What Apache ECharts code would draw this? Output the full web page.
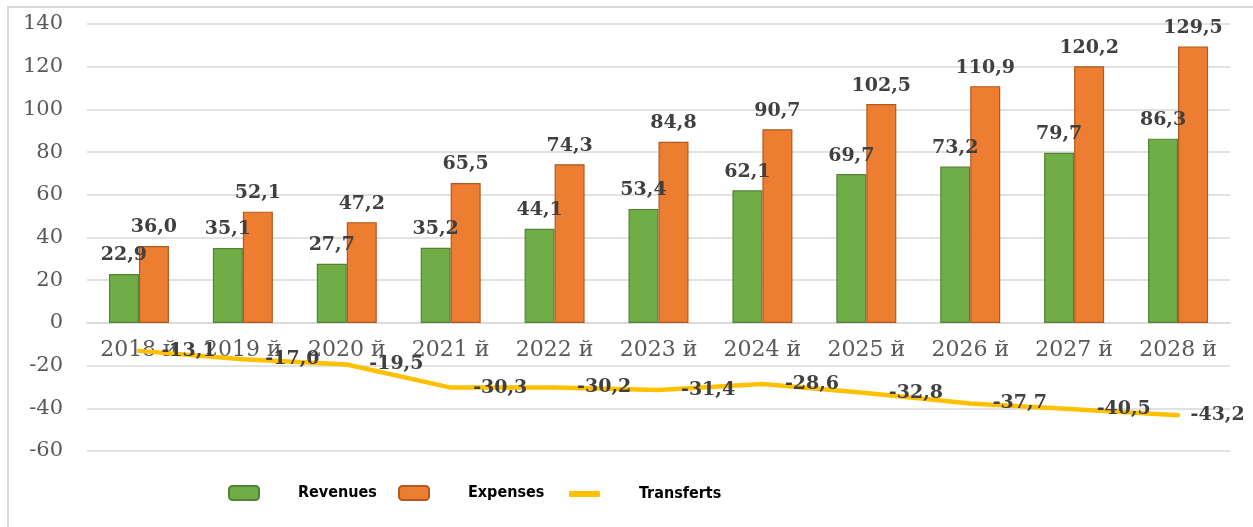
<!DOCTYPE html>
<html>
<head>
<meta charset="utf-8">
<script src="https://cdn.jsdelivr.net/npm/echarts@6/dist/echarts.min.js"></script>
<style>
  html, body { margin: 0; padding: 0; background: #fff; }
  #chart { width: 1253px; height: 527px; }
</style>
</head>
<body>
<div id="chart"></div>
<script>
const years = ['2018 й', '2019 й', '2020 й', '2021 й', '2022 й', '2023 й', '2024 й', '2025 й', '2026 й', '2027 й', '2028 й']
const revenues = [22.9, 35.1, 27.7, 35.2, 44.1, 53.4, 62.1, 69.7, 73.2, 79.7, 86.3]
const expenses = [36.0, 52.1, 47.2, 65.5, 74.3, 84.8, 90.7, 102.5, 110.9, 120.2, 129.5]
const transferts = [-13.1, -17.0, -19.5, -30.3, -30.2, -31.4, -28.6, -32.8, -37.7, -40.5, -43.2]

const serif = '"DejaVu Serif", "Liberation Serif", serif'
const legendFont = '"Liberation Sans Narrow", "DejaVu Sans Condensed", "Liberation Sans", sans-serif'
const fmt = v => v.toFixed(1).replace('.', ',')

const barLabel = {
  show: true,
  position: 'top',
  distance: 9,
  fontFamily: serif,
  fontWeight: 'bold',
  fontSize: 19,
  color: '#404040',
  formatter: p => fmt(p.value)
}

const legendText = {
  fontFamily: legendFont,
  fontWeight: 'bold',
  fontSize: 16,
  color: '#000',
  padding: [0, 0, 0, 34]
}

const chart = echarts.init(document.getElementById('chart'))

chart.setOption({
  animation: false,
  backgroundColor: '#fff',
  graphic: [{
    type: 'rect',
    shape: { x: 8, y: 7, width: 1400, height: 700 },
    style: { fill: 'none', stroke: '#d9d9d9', lineWidth: 2 },
    silent: true,
    z: -1
  }],
  grid: { left: 87, right: 23, top: 24, bottom: 76 },
  legend: [
    { left: 228, top: 485, padding: 0, itemWidth: 30, itemHeight: 14, data: ['Revenues'], textStyle: legendText },
    { left: 398, top: 485, padding: 0, itemWidth: 30, itemHeight: 14, data: ['Expenses'], textStyle: legendText },
    { left: 569, top: 486, padding: 0, itemWidth: 31, itemHeight: 6, data: [{ name: 'Transferts', icon: 'roundRect' }], textStyle: legendText }
  ],
  xAxis: {
    type: 'category',
    data: years,
    axisLine: { show: true, onZero: true, lineStyle: { color: '#d9d9d9', width: 1.5 } },
    axisTick: { show: false },
    // labels sit just under the zero line, inside the plot
    axisLabel: { fontFamily: serif, fontSize: 22, color: '#595959', margin: -112 }
  },
  yAxis: {
    type: 'value',
    min: -60,
    max: 140,
    interval: 20,
    axisLine: { show: false },
    axisTick: { show: false },
    axisLabel: { fontFamily: serif, fontSize: 21, color: '#595959', margin: 24 },
    splitLine: { lineStyle: { color: '#d9d9d9', width: 1.5 } }
  },
  series: [
    {
      name: 'Revenues',
      type: 'bar',
      data: revenues,
      barWidth: 30,
      barGap: '0%',
      itemStyle: { color: '#70AD47', borderColor: '#548235', borderWidth: 1.2 },
      label: barLabel
    },
    {
      name: 'Expenses',
      type: 'bar',
      data: expenses,
      barWidth: 30,
      itemStyle: { color: '#ED7D31', borderColor: '#AE5A21', borderWidth: 1.2 },
      label: barLabel
    },
    {
      name: 'Transferts',
      type: 'line',
      data: transferts.map((v, i) => i === transferts.length - 1
        ? { value: v, label: { distance: 12 } }
        : v),
      symbol: 'circle',
      symbolSize: 1,
      z: 5,
      lineStyle: { color: '#FFC000', width: 4.5, cap: 'round', join: 'round' },
      itemStyle: { color: '#FFC000' },
      label: {
        show: true,
        position: 'right',
        distance: 22,
        fontFamily: serif,
        fontWeight: 'bold',
        fontSize: 19,
        color: '#404040',
        formatter: p => fmt(p.value)
      }
    }
  ]
})
</script>
</body>
</html>
